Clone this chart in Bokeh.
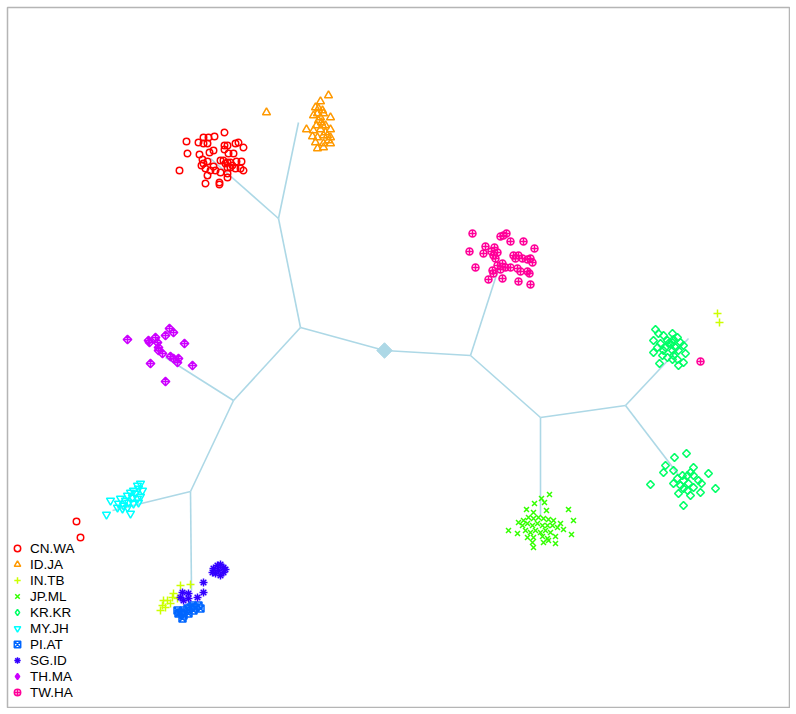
import math
from bokeh.plotting import figure
from bokeh.models import Range1d, Legend, LegendItem
from bokeh.embed import file_html
from bokeh.resources import INLINE

# ---- tree (node positions in ordination units, y downwards) ----
node_names = ["root", "A", "B", "cn", "id", "C", "th", "D", "my", "E",
              "F", "tw", "G", "jp", "H", "kru", "krl"]
node_x = [384, 300, 278, 210, 298, 233, 165, 190, 112, 191,
          470, 500, 540, 540, 625, 688, 680]
node_y = [350, 327, 218, 158, 122, 400, 357, 491, 510, 590,
          355, 262, 417, 515, 405, 338, 477]
edges = [("root", "A"), ("A", "B"), ("B", "cn"), ("B", "id"), ("A", "C"),
         ("C", "th"), ("C", "D"), ("D", "my"), ("D", "E"),
         ("root", "F"), ("F", "tw"), ("F", "G"), ("G", "jp"), ("G", "H"),
         ("H", "kru"), ("H", "krl")]

# ---- populations ----
groups = ["CN.WA", "ID.JA", "IN.TB", "JP.ML", "KR.KR", "MY.JH", "PI.AT", "SG.ID", "TH.MA", "TW.HA"]
colors = ["#FF0000", "#FF9900", "#CCFF00", "#33FF00", "#00FF66", "#00FFFF", "#0066FF", "#3300FF", "#CC00FF", "#FF0099"]
markers = ["circle", "triangle", "cross", "x", "square", "inverted_triangle", "square_x", "asterisk", "square_x", "circle_cross"]
angles = [0, 0, 0, 0, math.pi / 4, 0, 0, 0, math.pi / 4, 0]
legend_markers = ["circle", "triangle", "cross", "x", "diamond", "inverted_triangle", "square_x", "asterisk", "diamond_cross", "circle_cross"]

cn_wa_x = [186,187,179,203,208,214,224,198,203,207,199,209,213,224,227,235,238,243,224,228,233,202,203,207,220,223,227,230,236,241,201,205,210,215,227,230,235,240,243,207,220,227,227,205,219,219,213,225,232,76,80]
cn_wa_y = [141,153,170,137,137,136,132,142,143,143,154,152,150,145,145,143,142,147,149,153,153,159,163,161,160,160,162,162,161,161,165,168,170,170,167,167,168,168,170,175,172,173,177,183,182,184,166,163,165,521,537]

id_ja_x = [266,328,320,315,318,322,317,323,313,320,330,321,322,306,313,320,330,325,323,327,330,312,317,315,330,323,317,323,318,325,316,328]
id_ja_y = [112,95,101,107,108,110,113,113,115,117,117,122,125,129,130,129,129,132,135,135,137,136,137,142,143,143,148,147,120,125,125,140]

in_tb_x = [180,190,173,172,167,163,162,160,165,170,177,717,719]
in_tb_y = [585,584,593,597,600,600,605,610,607,603,598,313,322]

jp_ml_x = [549,541,544,534,526,533,546,568,573,518,523,528,533,538,543,548,553,560,522,527,532,537,542,547,552,557,508,517,525,530,535,540,545,550,563,571,527,533,542,547,555,532,543,555,533,548]
jp_ml_y = [494,498,502,503,509,512,510,509,520,522,520,517,518,517,518,519,520,523,525,523,525,523,525,525,525,527,530,533,530,532,530,532,530,532,529,534,537,537,536,538,536,542,542,543,547,540]

kr_kr_x = [655,658,663,672,677,653,667,673,680,660,670,683,657,665,675,663,672,678,653,685,662,673,667,677,672,683,659,678,668,672,
           674,686,665,663,673,693,690,682,687,708,677,683,698,701,650,673,680,688,693,683,687,715,700,678,690,683,693]
kr_kr_y = [329,333,335,333,337,340,340,339,342,343,343,345,347,347,347,350,350,350,352,353,355,355,357,359,359,362,363,365,343,342,
           457,453,465,472,470,467,472,475,475,473,478,480,480,483,484,483,485,483,487,488,490,488,492,493,495,505,475]

my_jh_x = [110,106,130,140,137,138,133,142,130,135,127,132,120,140,125,128,118,123,133,122,127,117,138,137]
my_jh_y = [500,514,513,483,485,488,490,490,492,493,495,497,498,496,500,502,503,505,503,508,507,507,502,498]

pi_at_x = [180,183,187,190,195,198,193,188,183,178,182,192,200,177]
pi_at_y = [612,610,608,607,607,605,610,613,615,613,618,605,608,610]

sg_id_x = [217,220,223,213,218,223,215,220,212,225,203,203,197,188,182,180,188,183]
sg_id_y = [565,564,567,568,570,572,573,575,572,569,582,592,597,593,592,597,598,600]

th_ma_x = [127,148,149,155,157,158,165,169,173,184,158,162,170,173,178,177,150,192,165]
th_ma_y = [339,340,342,337,342,347,335,328,332,343,350,353,356,358,358,362,363,365,381]

tw_ha_x = [472,500,503,506,510,523,534,469,483,485,491,494,497,493,495,513,518,515,522,527,530,532,475,497,502,505,510,517,520,500,492,493,527,529,488,502,518,530,700]
tw_ha_y = [233,236,235,233,241,241,248,251,253,246,251,247,252,255,258,255,255,258,258,259,258,262,267,265,263,267,267,268,271,269,270,273,271,273,279,278,281,284,361]

data_x = [cn_wa_x, id_ja_x, in_tb_x, jp_ml_x, kr_kr_x, my_jh_x, pi_at_x, sg_id_x, th_ma_x, tw_ha_x]
data_y = [cn_wa_y, id_ja_y, in_tb_y, jp_ml_y, kr_kr_y, my_jh_y, pi_at_y, sg_id_y, th_ma_y, tw_ha_y]
sizes = [6.5, 8, 8, 7, 5.5, 8, 7, 8, 6, 7]
legend_sizes = [6.5, 8, 8, 7, 9, 8, 7, 8, 9, 7]

p = figure(frame_width=782, frame_height=700, output_backend="svg", toolbar_location=None,
           x_range=Range1d(7, 789), y_range=Range1d(707, 7),
           min_border_left=7, min_border_top=7, min_border_right=1, min_border_bottom=1)
p.axis.visible = False
p.xgrid.visible = False
p.ygrid.visible = False
p.outline_line_color = "#B5B5B5"
p.outline_line_width = 1.5
p.background_fill_color = "white"

pos = {n: (x, y) for n, x, y in zip(node_names, node_x, node_y)}
xs = [[pos[a][0], pos[b][0]] for a, b in edges]
ys = [[pos[a][1], pos[b][1]] for a, b in edges]
p.multi_line(xs, ys, line_color="#ADD8E6", line_width=1.6)

items = []
for g, c, m, a, lm, ls, x, y, s in zip(groups, colors, markers, angles, legend_markers,
                                       legend_sizes, data_x, data_y, sizes):
    r = p.scatter(x, y, marker=m, size=s, angle=a, line_color=c, fill_color=None, line_width=1.5)
    if lm != m:
        # legend key drawn un-rotated: a hidden twin renderer with the diamond marker
        r = p.scatter(x, y, marker=lm, size=ls, line_color=c, fill_color=None,
                      line_width=1.5, visible=False)
    items.append(LegendItem(label=g, renderers=[r]))

p.scatter([node_x[0]], [node_y[0]], marker="square", angle=math.pi / 4, size=11,
          fill_color="#ADD8E6", line_color="#ADD8E6")

legend = Legend(items=items, location=(2, 7), orientation="vertical",
                label_text_font="Liberation Sans", label_text_font_size="13.5px",
                label_text_color="black", glyph_width=16, glyph_height=16,
                label_height=16, spacing=0, label_standoff=5, padding=0, margin=0,
                border_line_color=None, background_fill_alpha=0,
                inactive_fill_alpha=0, click_policy="none")
p.add_layout(legend, "center")

open("out.html", "w").write(file_html(p, INLINE))
